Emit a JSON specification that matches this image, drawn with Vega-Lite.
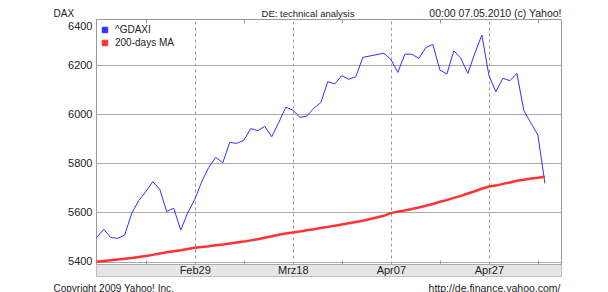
{
  "$schema": "https://vega.github.io/schema/vega-lite/v6.json",
  "width": 465,
  "height": 257,
  "autosize": {"type": "none"},
  "padding": {"left": 96, "top": 19, "right": 47, "bottom": 16},
  "background": "white",
  "config": {"view": {"stroke": "#999999", "strokeWidth": 1}, "font": "Liberation Sans"},
  "title": {"text": "DE: technical analysis", "anchor": "middle", "frame": "group", "dx": -20.5, "dy": 21, "offset": 3, "baseline": "alphabetic", "font": "Liberation Sans", "fontSize": 9.5, "fontWeight": "normal", "color": "#222222"},
  "data": {"values": [
    {"i":0,"dax":5498,"ma":5399},{"i":1,"dax":5531,"ma":5402},{"i":2,"dax":5498,"ma":5405},{"i":3,"dax":5494,"ma":5408},
    {"i":4,"dax":5508,"ma":5411},{"i":5,"dax":5596,"ma":5414},{"i":6,"dax":5648,"ma":5418},{"i":7,"dax":5684,"ma":5422},
    {"i":8,"dax":5725,"ma":5427},{"i":9,"dax":5694,"ma":5433},{"i":10,"dax":5603,"ma":5438},{"i":11,"dax":5617,"ma":5442},
    {"i":12,"dax":5528,"ma":5446},{"i":13,"dax":5599,"ma":5451},{"i":14,"dax":5653,"ma":5456},{"i":15,"dax":5725,"ma":5459},
    {"i":16,"dax":5783,"ma":5462},{"i":17,"dax":5824,"ma":5466},{"i":18,"dax":5802,"ma":5469},{"i":19,"dax":5885,"ma":5473},
    {"i":20,"dax":5881,"ma":5477},{"i":21,"dax":5893,"ma":5481},{"i":22,"dax":5941,"ma":5486},{"i":23,"dax":5933,"ma":5491},
    {"i":24,"dax":5950,"ma":5497},{"i":25,"dax":5908,"ma":5503},{"i":26,"dax":5966,"ma":5509},{"i":27,"dax":6028,"ma":5514},
    {"i":28,"dax":6017,"ma":5518},{"i":29,"dax":5987,"ma":5522},{"i":30,"dax":5992,"ma":5527},{"i":31,"dax":6024,"ma":5531},
    {"i":32,"dax":6047,"ma":5536},{"i":33,"dax":6132,"ma":5541},{"i":34,"dax":6123,"ma":5546},{"i":35,"dax":6157,"ma":5551},
    {"i":36,"dax":6142,"ma":5556},{"i":37,"dax":6152,"ma":5561},{"i":38,"dax":6231,"ma":5566},{"i":41,"dax":6248,"ma":5586},
    {"i":42,"dax":6223,"ma":5597},{"i":43,"dax":6170,"ma":5603},{"i":44,"dax":6244,"ma":5608},{"i":45,"dax":6244,"ma":5614},
    {"i":46,"dax":6227,"ma":5620},{"i":47,"dax":6271,"ma":5627},{"i":48,"dax":6284,"ma":5634},{"i":49,"dax":6180,"ma":5643},
    {"i":50,"dax":6163,"ma":5650},{"i":51,"dax":6258,"ma":5659},{"i":52,"dax":6227,"ma":5667},{"i":53,"dax":6166,"ma":5677},
    {"i":54,"dax":6248,"ma":5686},{"i":55,"dax":6322,"ma":5696},{"i":56,"dax":6159,"ma":5705},{"i":57,"dax":6091,"ma":5709},
    {"i":58,"dax":6146,"ma":5716},{"i":59,"dax":6136,"ma":5722},{"i":60,"dax":6166,"ma":5729},{"i":61,"dax":6014,"ma":5733},
    {"i":62,"dax":5964,"ma":5738},{"i":63,"dax":5915,"ma":5741},{"i":64,"dax":5718,"ma":5745}
  ]},
  "layer": [
    {
      "mark": {"type": "line", "strokeWidth": 1, "interpolate": "linear"},
      "encoding": {
        "x": {"field": "i", "type": "quantitative",
          "scale": {"domain": [-0.1, 66.3], "nice": false, "zero": false},
          "axis": {"orient": "top", "values": [7,14,21,28,35,42,49,56,63], "zindex": 0,
            "domain": false, "labels": false,
            "grid": true, "gridDash": [3,3], "gridColor": "#999999",
            "gridOpacity": {"condition": {"test": "datum.value % 14 === 0", "value": 1}, "value": 0},
            "ticks": true, "tickSize": -4, "tickColor": "#999999",
            "tickOpacity": {"condition": {"test": "datum.value % 14 === 0", "value": 0}, "value": 1},
            "title": "00:00 07.05.2010 (c) Yahoo!", "titleAlign": "right", "titleAnchor": "end", "titleBaseline": "alphabetic",
            "titleX": 465, "titleY": -3, "titleFont": "Liberation Sans", "titleFontSize": 10.5, "titleFontWeight": "normal", "titleColor": "#222222"}},
        "y": {"field": "dax", "type": "quantitative",
          "scale": {"domain": [5341, 6387.3], "nice": false, "zero": false},
          "axis": {"orient": "right", "labels": false, "ticks": false, "domain": false, "grid": false,
            "title": "http://de.finance.yahoo.com/", "titleAngle": 0, "titleAlign": "right", "titleBaseline": "alphabetic",
            "titleX": -1, "titleY": 272, "titleFont": "Liberation Sans", "titleFontSize": 10.5, "titleFontWeight": "normal", "titleColor": "#222222"}},
        "color": {"datum": "^GDAXI", "type": "nominal",
          "scale": {"domain": ["^GDAXI", "200-days MA"], "range": ["#3030ff", "#ff3333"]},
          "legend": {"orient": "none", "legendX": 4, "legendY": 6, "title": null, "padding": 0,
            "symbolType": "square", "symbolSize": 30, "symbolStrokeColor": "#999999", "symbolStrokeWidth": 1,
            "labelFont": "Liberation Sans", "labelFontSize": 10, "labelColor": "#222222", "labelOffset": 5, "rowPadding": 3,
            "encode": {"symbols": {"update": {"fill": {"signal": "scale('color', datum.value)"}, "fillOpacity": {"value": 1}, "stroke": {"value": "#999999"}, "strokeWidth": {"value": 1}}}}}}
      }
    },
    {
      "mark": {"type": "line", "strokeWidth": 2.5, "interpolate": "linear"},
      "encoding": {
        "x": {"field": "i", "type": "quantitative",
          "scale": {"domain": [-0.1, 66.3], "nice": false, "zero": false},
          "axis": {"orient": "bottom", "values": [7,14,21,28,35,42,49,56,63], "offset": -12, "zindex": 1,
            "domain": false, "grid": false,
            "ticks": true, "tickSize": -4, "tickColor": "#999999",
            "tickOpacity": {"condition": {"test": "datum.value % 14 === 0", "value": 0}, "value": 1},
            "labelExpr": "datum.value == 14 ? 'Feb29' : datum.value == 28 ? 'Mrz18' : datum.value == 42 ? 'Apr07' : datum.value == 56 ? 'Apr27' : ''",
            "labelFont": "Liberation Sans", "labelFontSize": 11, "labelColor": "#222222", "labelPadding": 10, "labelBaseline": "middle",
            "labelOverlap": false, "labelFlush": false,
            "title": "Copyright 2009 Yahoo! Inc.", "titleAnchor": "start", "titleAlign": "left", "titleBaseline": "alphabetic",
            "titleX": -43, "titleY": 27, "titleFont": "Liberation Sans", "titleFontSize": 10, "titleFontWeight": "normal", "titleColor": "#222222"}},
        "y": {"field": "ma", "type": "quantitative",
          "scale": {"domain": [5341, 6387.3], "nice": false, "zero": false},
          "axis": {"orient": "left", "values": [5365.4, 5390, 5400, 5600, 5800, 6000, 6200, 6357], "format": "d",
            "domain": false, "ticks": false, "grid": true,
            "gridColor": {"condition": {"test": "datum.value < 5380", "value": "#e6e6e6"}, "value": "#aaaaaa"},
            "gridWidth": {"condition": {"test": "datum.value < 5380", "value": 12}, "value": 1},
            "gridOpacity": {"condition": {"test": "datum.value > 6300", "value": 0}, "value": 1},
            "labelExpr": "datum.value > 6300 ? '6400' : datum.value >= 5400 ? datum.label : ''",
            "labelFont": "Liberation Sans", "labelFontSize": 11, "labelColor": "#222222", "labelPadding": 4, "labelBaseline": "middle",
            "labelOverlap": false, "labelFlush": false,
            "title": "DAX", "titleAngle": 0, "titleAlign": "left", "titleBaseline": "alphabetic",
            "titleX": -43, "titleY": -3, "titleFont": "Liberation Sans", "titleFontSize": 10, "titleFontWeight": "normal", "titleColor": "#222222"}},
        "color": {"datum": "200-days MA", "type": "nominal",
          "scale": {"domain": ["^GDAXI", "200-days MA"], "range": ["#3030ff", "#ff3333"]}}
      }
    }
  ],
  "resolve": {"axis": {"x": "independent", "y": "independent"}}
}
